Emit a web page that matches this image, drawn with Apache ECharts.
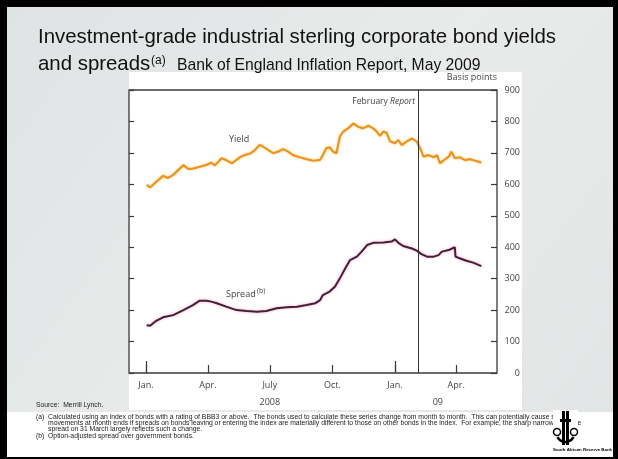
<!DOCTYPE html>
<html><head><meta charset="utf-8">
<script src="https://cdn.jsdelivr.net/npm/echarts@6/dist/echarts.min.js"></script>
<style>html,body{margin:0;padding:0;background:#000;}#c{width:618px;height:459px;}</style>
</head><body><div id="c"></div>
<script>
// ---- data ----
const yieldDates = ['2008-01-02','2008-01-07','2008-01-16','2008-01-26','2008-02-02','2008-02-10','2008-02-25','2008-03-03','2008-03-10','2008-03-20','2008-03-30','2008-04-06','2008-04-11','2008-04-21','2008-04-28','2008-05-06','2008-05-13','2008-05-18','2008-05-25','2008-06-02','2008-06-09','2008-06-16','2008-06-21','2008-06-29','2008-07-06','2008-07-13','2008-07-21','2008-07-28','2008-08-04','2008-08-14','2008-08-24','2008-09-03','2008-09-13','2008-09-17','2008-09-22','2008-09-27','2008-10-02','2008-10-07','2008-10-12','2008-10-17','2008-10-24','2008-11-01','2008-11-08','2008-11-15','2008-11-23','2008-11-30','2008-12-05','2008-12-10','2008-12-15','2008-12-20','2008-12-25','2009-01-01','2009-01-06','2009-01-11','2009-01-18','2009-01-26','2009-02-02','2009-02-07','2009-02-12','2009-02-19','2009-02-27','2009-03-04','2009-03-08','2009-03-16','2009-03-21','2009-03-25','2009-03-30','2009-04-06','2009-04-14','2009-04-21','2009-04-29','2009-05-08'];
const yieldValues = [598,590,608,627,620,630,661,649,650,656,662,669,660,683,677,667,678,686,693,698,709,725,720,709,699,704,712,704,693,686,680,675,678,693,715,718,704,699,752,768,778,794,783,778,786,778,768,754,768,763,736,731,741,725,736,746,736,715,688,693,686,693,667,680,688,704,683,686,677,680,675,669];

const spreadDates = ['2008-01-02','2008-01-07','2008-01-16','2008-01-26','2008-02-10','2008-02-25','2008-03-10','2008-03-20','2008-03-30','2008-04-06','2008-04-14','2008-04-28','2008-05-13','2008-05-28','2008-06-12','2008-06-26','2008-07-11','2008-07-26','2008-08-10','2008-08-24','2008-09-06','2008-09-13','2008-09-17','2008-09-27','2008-10-05','2008-10-12','2008-10-20','2008-10-27','2008-11-06','2008-11-13','2008-11-21','2008-11-30','2008-12-15','2008-12-27','2009-01-01','2009-01-06','2009-01-13','2009-01-26','2009-02-02','2009-02-09','2009-02-17','2009-02-27','2009-03-06','2009-03-11','2009-03-21','2009-03-30','2009-03-31','2009-04-06','2009-04-16','2009-04-26','2009-05-08'];
const spreadValues = [152,150,166,177,184,200,216,230,230,227,222,211,200,197,195,197,206,209,211,216,222,232,248,259,275,301,333,359,370,386,407,414,415,418,425,414,404,396,389,378,370,370,375,386,391,400,370,365,357,351,340];

const monthTickDates = ['2008-01-01','2008-04-01','2008-07-01','2008-10-01','2009-01-01','2009-04-01'];
const monthTickLabels = ['Jan.','Apr.','July','Oct.','Jan.','Apr.'];
const yearTickDates = ['2008-01-01','2009-01-01'];
const yearLabelDates = ['2008-07-01','2009-03-05'];
const yearLabels = ['2008','09'];
const reportDate = '2009-02-04';
const yTicks = [0,100,200,300,400,500,600,700,800,900];

// ---- chart ----
const ts = s => Date.UTC(+s.slice(0,4), +s.slice(5,7)-1, +s.slice(8,10));
const chart = echarts.init(document.getElementById('c'));
const axisFont = '"Open Sans", "DejaVu Sans", sans-serif';
const arial = '"Liberation Sans", Arial, sans-serif';
const xMin = ts('2007-12-07'), xMax = ts('2009-05-31');

function zipPairs(d, v){ return d.map((x,i)=>[ts(x), v[i]]); }

const monthTs = monthTickDates.map(ts);
const yearLabTs = yearLabelDates.map(ts);

const footA1 = '(a)  Calculated using an index of bonds with a rating of BBB3 or above.  The bonds used to calculate these series change from month to month.  This can potentially cause sharp';
const footA2 = 'movements at month ends if spreads on bonds leaving or entering the index are materially different to those on other bonds in the index.  For example, the sharp narrowing in the';
const footA3 = 'spread on 31 March largely reflects such a change.';
const footB = '(b)  Option-adjusted spread over government bonds.';
const fnFont = '6.8px ' + arial;

const option = {
  animation: false,
  backgroundColor: '#000',
  graphic: [
    {type:'rect', z:-10, shape:{x:7,y:7,width:606,height:450}, style:{fill:new echarts.graphic.LinearGradient(0,0,1,1,[{offset:0,color:'#dfe3e3'},{offset:0.5,color:'#e9ebeb'},{offset:1,color:'#e2e5e5'}])}},
    {type:'rect', z:-9, shape:{x:129,y:72,width:393,height:338}, style:{fill:'#ffffff'}},
    {type:'rect', z:-9, shape:{x:7,y:412,width:606,height:45}, style:{fill:'#ffffff'}},
    {type:'text', left:38, top:27, style:{text:'Investment-grade industrial sterling corporate bond yields', font:'20.4px '+arial, fill:'#111'}},
    {type:'text', left:38, top:54, style:{text:'and spreads', font:'20.4px '+arial, fill:'#111'}},
    {type:'text', left:151, top:55, style:{text:'(a)', font:'12px '+arial, fill:'#111'}},
    {type:'text', left:177, top:58, style:{text:'Bank of England Inflation Report, May 2009', font:'15.7px '+arial, fill:'#111'}},
    {type:'text', right:121, top:73, style:{text:'Basis points', font:'9px '+axisFont, fill:'#444'}},
    {type:'text', right:203, top:97, style:{text:'{n|February }{i|Report}', rich:{n:{font:'8.5px '+axisFont, fill:'#444'}, i:{font:'italic 8.5px '+axisFont, fill:'#444'}}}},
    {type:'text', left:229, top:135, style:{text:'Yield', font:'9px '+axisFont, fill:'#444'}},
    {type:'text', left:226, top:290, style:{text:'Spread', font:'9px '+axisFont, fill:'#444'}},
    {type:'text', left:257, top:287, style:{text:'(b)', font:'7px '+axisFont, fill:'#444'}},
    {type:'text', left:36, top:402, style:{text:'Source:  Merrill Lynch.', font:fnFont, fill:'#222'}},
    {type:'text', left:36, top:414, style:{text:footA1, font:fnFont, fill:'#222'}},
    {type:'text', left:48, top:420, style:{text:footA2, font:fnFont, fill:'#222'}},
    {type:'text', left:48, top:426, style:{text:footA3, font:fnFont, fill:'#222'}},
    {type:'text', left:36, top:433, style:{text:footB, font:fnFont, fill:'#222'}},
    // logo (simplified emblem) on a white patch
    {type:'rect', z:4, shape:{x:553,y:410,width:25,height:36}, style:{fill:'#fff'}},
    {type:'rect', z:5, shape:{x:562,y:411,width:3,height:34}, style:{fill:'#000'}},
    {type:'rect', z:5, shape:{x:566,y:411,width:3,height:34}, style:{fill:'#000'}},
    {type:'rect', z:5, shape:{x:560,y:419,width:11,height:3}, style:{fill:'#000'}},
    {type:'arc', z:5, shape:{cx:565.5,cy:433,r:9,startAngle:Math.PI*0.15,endAngle:Math.PI*0.85}, style:{stroke:'#000',lineWidth:2.5,fill:null}},
    {type:'circle', z:5, shape:{cx:557,cy:432,r:3.5}, style:{stroke:'#000',lineWidth:1.5,fill:null}},
    {type:'circle', z:5, shape:{cx:574,cy:432,r:3.5}, style:{stroke:'#000',lineWidth:1.5,fill:null}},
    {type:'text', left:553, top:448, style:{text:'South African Reserve Bank', font:'bold 4.4px '+arial, fill:'#000'}}
  ],
  grid: {left:129, right:121, top:90, bottom:86, show:true, borderColor:'#3a3a3a', borderWidth:1.3, backgroundColor:'transparent'},
  xAxis: [
    {type:'value', min:xMin, max:xMax, position:'bottom',
     axisLine:{show:false}, splitLine:{show:false},
     axisTick:{show:true, inside:true, length:8, lineStyle:{color:'#3a3a3a', width:1.2}, customValues: monthTs},
     axisLabel:{show:true, margin:8, color:'#444', fontSize:9, fontFamily:axisFont,
       customValues: monthTs,
       formatter: v => { const i = monthTs.indexOf(v); return i>=0 ? monthTickLabels[i] : ''; }}},
    {type:'value', min:xMin, max:xMax, position:'bottom',
     axisLine:{show:false}, splitLine:{show:false},
     axisTick:{show:true, inside:true, length:12, lineStyle:{color:'#3a3a3a', width:1.2}, customValues: yearTickDates.map(ts)},
     axisLabel:{show:true, margin:25, color:'#444', fontSize:9, fontFamily:axisFont,
       customValues: yearLabTs,
       formatter: v => { const i = yearLabTs.indexOf(v); return i>=0 ? yearLabels[i] : ''; }}}
  ],
  yAxis: [
    {type:'value', position:'right', min:0, max:900, interval:100,
     axisLine:{show:false}, splitLine:{show:false},
     axisTick:{show:true, inside:true, length:6, lineStyle:{color:'#3a3a3a', width:1.2}},
     axisLabel:{show:true, align:'right', margin:23, color:'#444', fontSize:9, fontFamily:axisFont,
       formatter: v => yTicks.indexOf(v)>=0 ? String(v) : ''}},
    {type:'value', position:'left', min:0, max:900, interval:100,
     axisLine:{show:false}, splitLine:{show:false},
     axisTick:{show:true, inside:true, length:5, lineStyle:{color:'#3a3a3a', width:1.2}},
     axisLabel:{show:false}}
  ],
  series: [
    {name:'Yield', type:'line', xAxisIndex:0, yAxisIndex:0, data: zipPairs(yieldDates, yieldValues),
     showSymbol:false, symbol:'none', lineStyle:{color:'#ea951f', width:2.2, shadowColor:'rgba(255,190,80,0.6)', shadowBlur:3}},
    {name:'Spread', type:'line', xAxisIndex:0, yAxisIndex:0, data: zipPairs(spreadDates, spreadValues),
     showSymbol:false, symbol:'none', lineStyle:{color:'#4a1c3a', width:2, shadowColor:'rgba(210,90,150,0.5)', shadowBlur:3},
     markLine:{silent:true, symbol:'none', label:{show:false}, lineStyle:{color:'#333', width:1, type:'solid'}, data:[{xAxis: ts(reportDate)}]}}
  ]
};
chart.setOption(option);
</script></body></html>
